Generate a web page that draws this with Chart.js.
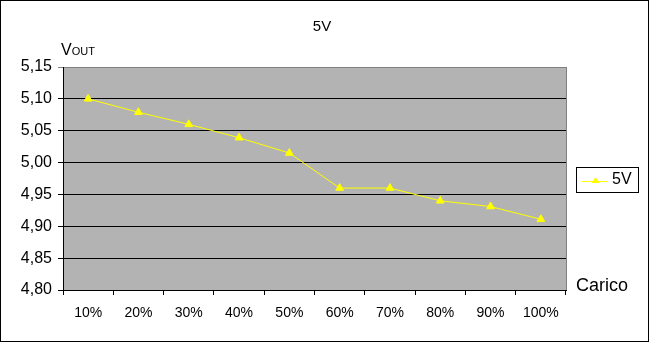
<!DOCTYPE html>
<html>
<head>
<meta charset="utf-8">
<script src="https://cdn.jsdelivr.net/npm/chart.js@4/dist/chart.umd.min.js"></script>
<style>
html,body{margin:0;padding:0;background:#fff;}
#wrap{width:649px;height:342px;position:relative;}
</style>
</head>
<body>
<div id="wrap"><canvas id="c" width="649" height="342"></canvas></div>
<script>
const categories = ['10%','20%','30%','40%','50%','60%','70%','80%','90%','100%'];
const seriesName = '5V';
const vout = [5.10, 5.079, 5.06, 5.039, 5.015, 4.96, 4.96, 4.94, 4.931, 4.911];
const yMin = 4.80, yMax = 5.15, yStep = 0.05;
const chartTitle = '5V';
const yTitleMain = 'V';
const yTitleSub = 'OUT';
const xTitle = 'Carico';

const FONT = '"Liberation Sans", Arial, sans-serif';

const decor = {
  id: 'decor',
  beforeDraw(chart) {
    const {ctx, chartArea: a} = chart;
    ctx.save();
    ctx.fillStyle = '#fff';
    ctx.fillRect(0, 0, chart.width, chart.height);
    ctx.fillStyle = '#b3b3b3';
    ctx.fillRect(a.left, a.top, a.right - a.left, a.bottom - a.top);
    ctx.restore();
  },
  afterDraw(chart) {
    const {ctx, chartArea: a} = chart;
    ctx.save();
    ctx.strokeStyle = '#808080';
    ctx.lineWidth = 1;
    ctx.beginPath();
    ctx.moveTo(Math.round(a.right) + 0.5, a.top);
    ctx.lineTo(Math.round(a.right) + 0.5, a.bottom);
    ctx.stroke();
    ctx.strokeStyle = '#000';
    ctx.strokeRect(0.5, 0.5, chart.width - 1, chart.height - 1);
    ctx.fillStyle = '#000';
    ctx.font = '15px ' + FONT;
    ctx.textAlign = 'center';
    ctx.textBaseline = 'middle';
    ctx.fillText(chartTitle, 322, 27);
    ctx.textAlign = 'left';
    ctx.textBaseline = 'alphabetic';
    ctx.font = '16px ' + FONT;
    ctx.fillText(yTitleMain, 61, 55);
    const w = ctx.measureText(yTitleMain).width;
    ctx.font = '11px ' + FONT;
    ctx.fillText(yTitleSub, 61 + w, 55);
    ctx.font = '18px ' + FONT;
    ctx.textBaseline = 'middle';
    ctx.fillText(xTitle, 576, 286);
    const lx = 576, ly = 167, lw = 62, lh = 25;
    ctx.fillStyle = '#fff';
    ctx.fillRect(lx, ly, lw, lh);
    ctx.strokeStyle = '#000';
    ctx.strokeRect(lx + 0.5, ly + 0.5, lw, lh);
    const ds = chart.data.datasets[0];
    ctx.strokeStyle = ds.borderColor;
    ctx.beginPath();
    ctx.moveTo(lx + 6, ly + 14.5);
    ctx.lineTo(lx + 32, ly + 14.5);
    ctx.stroke();
    ctx.fillStyle = ds.pointBackgroundColor;
    ctx.beginPath();
    ctx.moveTo(lx + 19.5, ly + 10);
    ctx.lineTo(lx + 23.5, ly + 16);
    ctx.lineTo(lx + 15.5, ly + 16);
    ctx.closePath();
    ctx.fill();
    ctx.fillStyle = '#000';
    ctx.font = '16px ' + FONT;
    ctx.textAlign = 'left';
    ctx.textBaseline = 'middle';
    ctx.fillText(ds.label, lx + 36, ly + 13);
    ctx.restore();
  }
};

new Chart(document.getElementById('c'), {
  type: 'line',
  data: {
    labels: categories,
    datasets: [{
      label: seriesName,
      data: vout,
      borderColor: '#ffff00',
      backgroundColor: '#ffff00',
      pointBackgroundColor: '#ffff00',
      pointBorderColor: '#ffff00',
      borderWidth: 1,
      pointStyle: 'triangle',
      pointRadius: 4.5,
      pointBorderWidth: 1,
      tension: 0,
      fill: false
    }]
  },
  options: {
    responsive: false,
    animation: false,
    devicePixelRatio: 1,
    layout: {padding: {top: 67, right: 83, left: 0, bottom: 0}},
    plugins: {legend: {display: false}, title: {display: false}, tooltip: {enabled: false}},
    scales: {
      x: {
        type: 'category',
        offset: true,
        afterFit(s) { s.height = 52; },
        grid: {offset: true, drawOnChartArea: false, drawTicks: true, tickLength: 5, color: '#000'},
        border: {display: true, color: '#000', width: 1},
        ticks: {color: '#000', font: {family: FONT, size: 14}, padding: 10, maxRotation: 0, autoSkip: false}
      },
      y: {
        min: yMin,
        max: yMax,
        afterFit(s) { s.width = 63; },
        grid: {
          drawTicks: true,
          tickLength: 5,
          color: (c) => (c.tick && Math.abs(c.tick.value - yMax) < 1e-6) ? '#808080' : '#000'
        },
        border: {display: true, color: '#000', width: 1},
        ticks: {
          stepSize: yStep,
          color: '#000',
          font: {family: FONT, size: 16},
          padding: 6,
          callback: (v) => v.toFixed(2).replace('.', ',')
        }
      }
    }
  },
  plugins: [decor]
});
</script>
</body>
</html>
